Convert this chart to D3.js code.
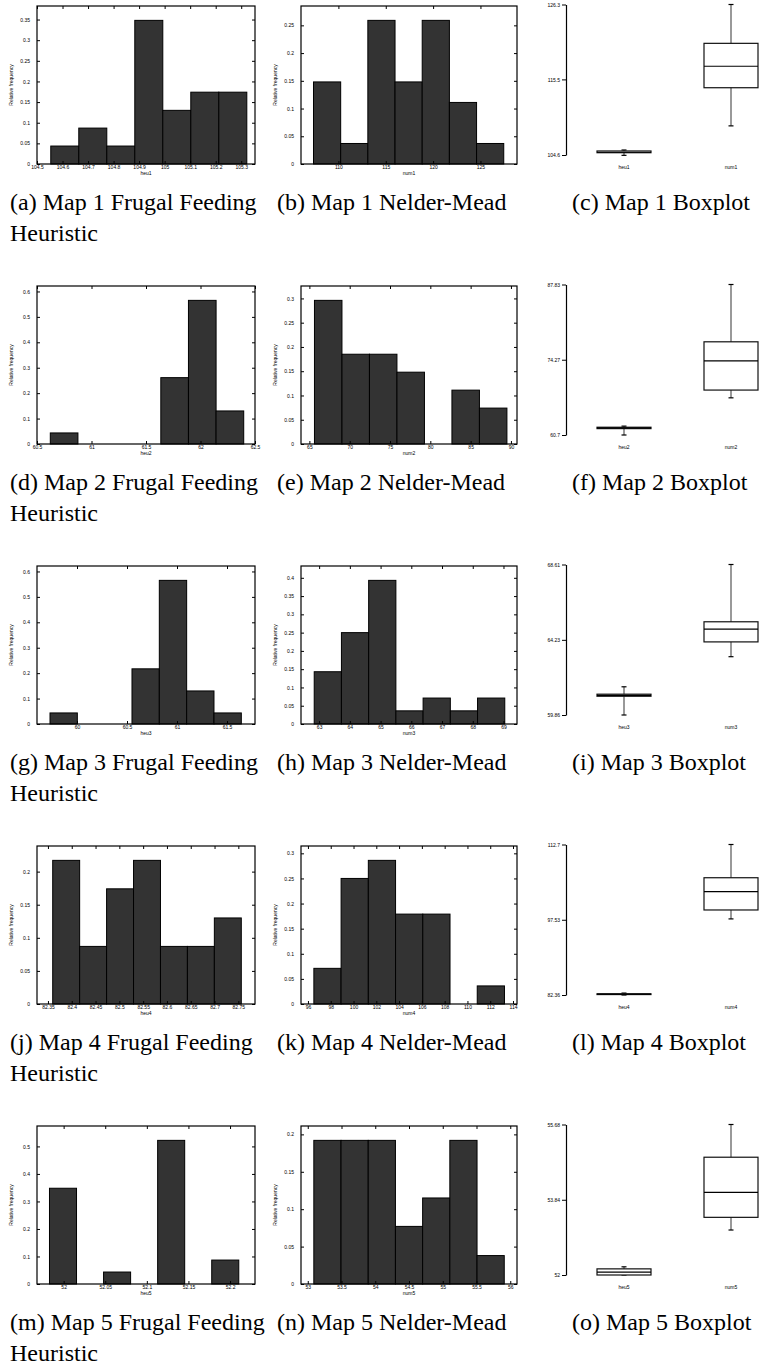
<!DOCTYPE html>
<html>
<head>
<meta charset="utf-8">
<script src="https://cdn.jsdelivr.net/npm/d3@7/dist/d3.min.js"></script>
<style>
body { margin: 0; background: #fff; }
svg text { font-family: "Liberation Sans", Arial, sans-serif; fill: #000; }
svg text.caption { font-family: "Liberation Serif", "Times New Roman", serif; font-size: 24px; }
</style>
</head>
<body>
<svg id="fig" width="759" height="1367"></svg>
<script>
// ---- histogram data: relative frequencies, first bin edge + bin width, x ticks ----
var heu1Freq = [0.0435, 0.087, 0.0435, 0.348, 0.130, 0.174, 0.174];
var heu1Bin = [104.554, 0.1097];
var heu1Range = [104.5, 105.354];
var heu1Ticks = [104.5, 104.6, 104.7, 104.8, 104.9, 105, 105.1, 105.2, 105.3];
var heu1YTicks = [0, 0.05, 0.1, 0.15, 0.2, 0.25, 0.3, 0.35];

var num1Freq = [0.148, 0.037, 0.259, 0.148, 0.259, 0.111, 0.037];
var num1Bin = [107.37, 2.87];
var num1Range = [106.05, 128.86];
var num1Ticks = [110, 115, 120, 125];
var num1YTicks = [0, 0.05, 0.1, 0.15, 0.2, 0.25];

var heu2Freq = [0.0435, 0, 0, 0, 0.261, 0.565, 0.130];
var heu2Bin = [60.622, 0.2535];
var heu2Range = [60.5, 62.5];
var heu2Ticks = [60.5, 61, 61.5, 62, 62.5];
var heu2YTicks = [0, 0.1, 0.2, 0.3, 0.4, 0.5, 0.6];

var num2Freq = [0.296, 0.185, 0.185, 0.148, 0, 0.111, 0.074];
var num2Bin = [65.63, 3.41];
var num2Range = [63.96, 90.75];
var num2Ticks = [65, 70, 75, 80, 85, 90];
var num2YTicks = [0, 0.05, 0.1, 0.15, 0.2, 0.25, 0.3];

var heu3Freq = [0.0435, 0, 0, 0.217, 0.565, 0.130, 0.0435];
var heu3Bin = [59.73, 0.2733];
var heu3Range = [59.6, 61.78];
var heu3Ticks = [60, 60.5, 61, 61.5];
var heu3YTicks = [0, 0.1, 0.2, 0.3, 0.4, 0.5, 0.6];

var num3Freq = [0.143, 0.25, 0.393, 0.036, 0.071, 0.036, 0.071];
var num3Bin = [62.84, 0.886];
var num3Range = [62.41, 69.44];
var num3Ticks = [63, 64, 65, 66, 67, 68, 69];
var num3YTicks = [0, 0.05, 0.1, 0.15, 0.2, 0.25, 0.3, 0.35, 0.4];

var heu4Freq = [0.217, 0.087, 0.174, 0.217, 0.087, 0.087, 0.130];
var heu4Bin = [82.36, 0.0566];
var heu4Range = [82.327, 82.785];
var heu4Ticks = [82.35, 82.4, 82.45, 82.5, 82.55, 82.6, 82.65, 82.7, 82.75];
var heu4YTicks = [0, 0.05, 0.1, 0.15, 0.2];

var num4Freq = [0.071, 0.25, 0.286, 0.179, 0.179, 0, 0.036];
var num4Bin = [96.52, 2.39];
var num4Range = [95.39, 114.35];
var num4Ticks = [96, 98, 100, 102, 104, 106, 108, 110, 112, 114];
var num4YTicks = [0, 0.05, 0.1, 0.15, 0.2, 0.25, 0.3];

var heu5Freq = [0.348, 0, 0.0435, 0, 0.522, 0, 0.087];
var heu5Bin = [51.983, 0.0325];
var heu5Range = [51.968, 52.23];
var heu5Ticks = [52, 52.05, 52.1, 52.15, 52.2];
var heu5YTicks = [0, 0.1, 0.2, 0.3, 0.4, 0.5];

var num5Freq = [0.192, 0.192, 0.192, 0.077, 0.115, 0.192, 0.038];
var num5Bin = [53.09, 0.403];
var num5Range = [52.9, 56.1];
var num5Ticks = [53, 53.5, 54, 54.5, 55, 55.5, 56];
var num5YTicks = [0, 0.05, 0.1, 0.15, 0.2];

// ---- boxplot data: [whisker low, q1, median, q3, whisker high], axis ticks ----
var box1Axis = [104.6, 115.5, 126.3];
var heu1Box = [104.55, 104.93, 105.0, 105.18, 105.32];
var num1Box = [108.8, 114.3, 117.4, 120.7, 126.3];

var box2Axis = [60.7, 74.27, 87.83];
var heu2Box = [60.7, 61.85, 61.98, 62.1, 62.3];
var num2Box = [67.4, 68.8, 74.05, 77.5, 87.83];

var box3Axis = [59.86, 64.23, 68.61];
var heu3Box = [59.86, 60.95, 61.0, 61.07, 61.5];
var num3Box = [63.25, 64.11, 64.85, 65.28, 68.61];

var box4Axis = [82.36, 97.53, 112.7];
var heu4Box = [82.36, 82.45, 82.52, 82.6, 82.75];
var num4Box = [97.7, 99.5, 103.2, 106.0, 112.7];

var box5Axis = [52, 53.84, 55.68];
var heu5Box = [52.0, 52.0, 52.07, 52.15, 52.2];
var num5Box = [53.1, 53.41, 54.02, 54.88, 55.68];

// ---- captions ----
var capLabels = ['a','b','c','d','e','f','g','h','i','j','k','l','m','n','o'];
var capMaps = ['Map 1', 'Map 2', 'Map 3', 'Map 4', 'Map 5'];
var capKinds = ['Frugal Feeding', 'Nelder-Mead', 'Boxplot'];

var rows = [
	{heu: {name: 'heu1', freq: heu1Freq, bin: heu1Bin, range: heu1Range, ticks: heu1Ticks, yticks: heu1YTicks},
	 num: {name: 'num1', freq: num1Freq, bin: num1Bin, range: num1Range, ticks: num1Ticks, yticks: num1YTicks},
	 box: {axis: box1Axis, boxes: [heu1Box, num1Box], names: ['heu1', 'num1']}},
	{heu: {name: 'heu2', freq: heu2Freq, bin: heu2Bin, range: heu2Range, ticks: heu2Ticks, yticks: heu2YTicks},
	 num: {name: 'num2', freq: num2Freq, bin: num2Bin, range: num2Range, ticks: num2Ticks, yticks: num2YTicks},
	 box: {axis: box2Axis, boxes: [heu2Box, num2Box], names: ['heu2', 'num2']}},
	{heu: {name: 'heu3', freq: heu3Freq, bin: heu3Bin, range: heu3Range, ticks: heu3Ticks, yticks: heu3YTicks},
	 num: {name: 'num3', freq: num3Freq, bin: num3Bin, range: num3Range, ticks: num3Ticks, yticks: num3YTicks},
	 box: {axis: box3Axis, boxes: [heu3Box, num3Box], names: ['heu3', 'num3']}},
	{heu: {name: 'heu4', freq: heu4Freq, bin: heu4Bin, range: heu4Range, ticks: heu4Ticks, yticks: heu4YTicks},
	 num: {name: 'num4', freq: num4Freq, bin: num4Bin, range: num4Range, ticks: num4Ticks, yticks: num4YTicks},
	 box: {axis: box4Axis, boxes: [heu4Box, num4Box], names: ['heu4', 'num4']}},
	{heu: {name: 'heu5', freq: heu5Freq, bin: heu5Bin, range: heu5Range, ticks: heu5Ticks, yticks: heu5YTicks},
	 num: {name: 'num5', freq: num5Freq, bin: num5Bin, range: num5Range, ticks: num5Ticks, yticks: num5YTicks},
	 box: {axis: box5Axis, boxes: [heu5Box, num5Box], names: ['heu5', 'num5']}}
];

var svg = d3.select('#fig');
var rowStep = 280;
var frameH = 158;

function drawHist(p, left, right, top) {
	var g = svg.append('g');
	var x = d3.scaleLinear().domain(p.range).range([left, right]);
	var y = d3.scaleLinear().domain([0, d3.max(p.freq) * 1.1]).range([top + frameH, top]);
	var bars = p.freq.map(function(f, i) {return {f: f, i: i}}).filter(function(b) {return b.f > 0});

	g.selectAll('rect.bar').data(bars).enter().append('rect')
		.attr('class', 'bar')
		.attr('x', function(b) {return x(p.bin[0] + b.i * p.bin[1])})
		.attr('width', function(b) {return x(p.bin[0] + (b.i + 1) * p.bin[1]) - x(p.bin[0] + b.i * p.bin[1])})
		.attr('y', function(b) {return y(b.f)})
		.attr('height', function(b) {return y(0) - y(b.f)})
		.attr('fill', '#333')
		.attr('stroke', '#000')
		.attr('stroke-width', 1);

	// mirrored inward ticks, gnuplot style
	var axes = [
		[d3.axisBottom(x).tickValues(p.ticks).tickFormat(String).tickPadding(1), 0, top + frameH],
		[d3.axisTop(x).tickValues(p.ticks).tickFormat(''), 0, top],
		[d3.axisLeft(y).tickValues(p.yticks).tickFormat(String).tickPadding(7), left, 0],
		[d3.axisRight(y).tickValues(p.yticks).tickFormat(''), right, 0]
	];
	axes.forEach(function(a) {
		var ax = g.append('g')
			.attr('transform', 'translate(' + a[1] + ',' + a[2] + ')')
			.call(a[0].tickSizeInner(-3).tickSizeOuter(0));
		ax.select('.domain').remove();
		ax.selectAll('line').attr('stroke', '#000');
		ax.selectAll('text').attr('font-size', 5).attr('font-family', null);
	});

	g.append('rect')
		.attr('x', left).attr('y', top)
		.attr('width', right - left).attr('height', frameH)
		.attr('fill', 'none').attr('stroke', '#000').attr('stroke-width', 1.2);

	g.append('text')
		.attr('transform', 'translate(' + (left - 24) + ',' + (top + frameH / 2) + ') rotate(-90)')
		.attr('text-anchor', 'middle').attr('font-size', 5)
		.text('Relative frequency');
	g.append('text')
		.attr('x', (left + right) / 2).attr('y', top + frameH + 10.5)
		.attr('text-anchor', 'middle').attr('font-size', 5)
		.text(p.name);
}

function drawBox(p, top) {
	var g = svg.append('g');
	var axisX = 566, centers = [624, 731], half = 27;
	var y = d3.scaleLinear().domain([p.axis[0], p.axis[2]]).range([top + 150.5, top]);

	var ax = g.append('g')
		.attr('transform', 'translate(' + axisX + ',0)')
		.call(d3.axisLeft(y).tickValues(p.axis).tickFormat(String).tickSizeInner(4).tickSizeOuter(0).tickPadding(2));
	ax.select('.domain').attr('stroke', '#000').attr('stroke-width', 1.2);
	ax.selectAll('line').attr('stroke', '#000');
	ax.selectAll('text').attr('font-size', 5).attr('font-family', null);

	var boxes = g.selectAll('g.box').data(p.boxes).enter().append('g').attr('class', 'box');
	boxes.append('line')
		.attr('x1', function(d, i) {return centers[i]}).attr('x2', function(d, i) {return centers[i]})
		.attr('y1', function(d) {return y(d[0])}).attr('y2', function(d) {return y(d[4])})
		.attr('stroke', '#555').attr('stroke-width', 1.2);
	[0, 4].forEach(function(k) {
		boxes.append('line')
			.attr('x1', function(d, i) {return centers[i] - 2.5}).attr('x2', function(d, i) {return centers[i] + 2.5})
			.attr('y1', function(d) {return y(d[k])}).attr('y2', function(d) {return y(d[k])})
			.attr('stroke', '#000').attr('stroke-width', 1.2);
	});
	boxes.append('rect')
		.attr('x', function(d, i) {return centers[i] - half}).attr('width', half * 2)
		.attr('y', function(d) {return y(d[3])})
		.attr('height', function(d) {return Math.max(y(d[1]) - y(d[3]), 0.5)})
		.attr('fill', '#fff').attr('stroke', '#111').attr('stroke-width', 1.2);
	boxes.append('line')
		.attr('x1', function(d, i) {return centers[i] - half}).attr('x2', function(d, i) {return centers[i] + half})
		.attr('y1', function(d) {return y(d[2])}).attr('y2', function(d) {return y(d[2])})
		.attr('stroke', '#000').attr('stroke-width', 1.2);

	g.selectAll('text.cat').data(p.names).enter().append('text')
		.attr('class', 'cat')
		.attr('x', function(d, i) {return centers[i]}).attr('y', top + 164)
		.attr('text-anchor', 'middle').attr('font-size', 5)
		.text(function(d) {return d});
}

function drawCaption(x, y, label, text, more) {
	var t = svg.append('text').attr('class', 'caption').attr('x', x).attr('y', y);
	t.append('tspan').text('(' + label + ')');
	t.append('tspan').attr('dx', 6).text(text);
	if (more) {
		svg.append('text').attr('class', 'caption').attr('x', x).attr('y', y + 31).text(more);
	}
}

rows.forEach(function(r, i) {
	var top = 6 + i * rowStep;
	drawHist(r.heu, 37, 255, top);
	drawHist(r.num, 301, 517, top);
	drawBox(r.box, top - 1.5);
	var capY = top + 204;
	drawCaption(10, capY, capLabels[i * 3], capMaps[i] + ' ' + capKinds[0], 'Heuristic');
	drawCaption(277, capY, capLabels[i * 3 + 1], capMaps[i] + ' ' + capKinds[1]);
	drawCaption(572, capY, capLabels[i * 3 + 2], capMaps[i] + ' ' + capKinds[2]);
});
</script>
</body>
</html>
